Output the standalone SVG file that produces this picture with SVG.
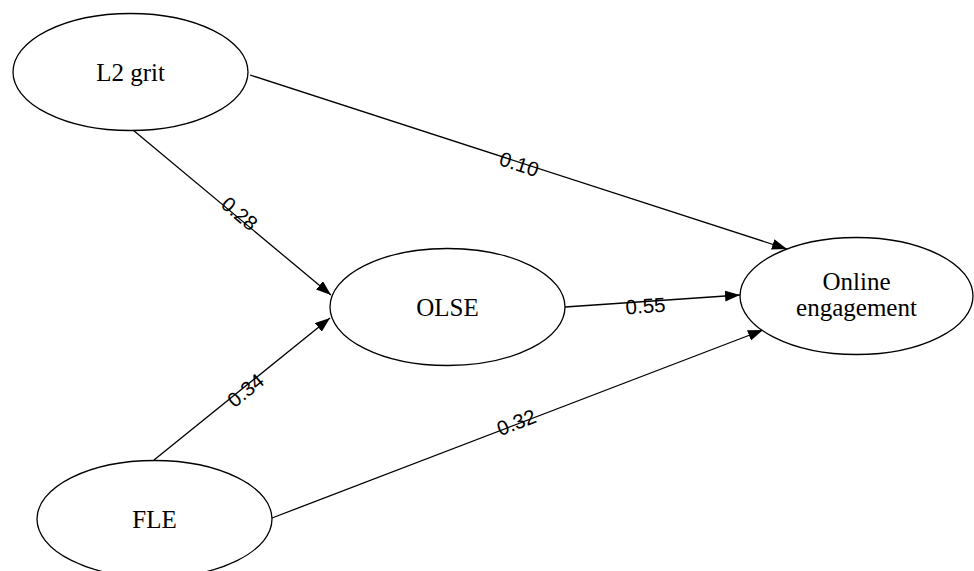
<svg xmlns="http://www.w3.org/2000/svg" width="974" height="571" viewBox="0 0 974 571">
<style>
.node ellipse{fill:#fff;stroke:#000;stroke-width:1.3}
.node text{font-family:"Liberation Serif","Times New Roman",serif;font-size:25px;fill:#000;text-anchor:middle}
.edge line{stroke:#000;stroke-width:1.3}
.lbl{font-family:"Liberation Sans",Arial,sans-serif;font-size:20.5px;fill:#000;text-anchor:middle}
</style>
<defs>
<marker id="arr" markerUnits="userSpaceOnUse" markerWidth="16" markerHeight="12" refX="15" refY="5.5" orient="auto">
<path d="M0,0 L15,5.5 L0,11 z" fill="#000"/>
</marker>
</defs>
<rect width="974" height="571" fill="#fff"/>
<g id="connectors" class="edge">
<line x1="133" y1="130" x2="331" y2="295" marker-end="url(#arr)"/>
<line x1="250" y1="75" x2="787" y2="249" marker-end="url(#arr)"/>
<line x1="565" y1="307" x2="740" y2="295" marker-end="url(#arr)"/>
<line x1="154" y1="460" x2="330" y2="318" marker-end="url(#arr)"/>
<line x1="272" y1="518" x2="763" y2="330" marker-end="url(#arr)"/>
<text class="lbl" transform="translate(235,219) rotate(40)">0.28</text>
<text class="lbl" transform="translate(517,171) rotate(18)">0.10</text>
<text class="lbl" transform="translate(646,313) rotate(-4)">0.55</text>
<text class="lbl" transform="translate(250,396) rotate(-39)">0.34</text>
<text class="lbl" transform="translate(519,429) rotate(-21)">0.32</text>
</g>
<g id="node-l2grit" class="node">
<ellipse cx="130.5" cy="72" rx="117.5" ry="58.5"/>
<text x="130.5" y="81">L2 grit</text>
</g>
<g id="node-olse" class="node">
<ellipse cx="447.5" cy="307" rx="117.5" ry="58.5"/>
<text x="447.5" y="316">OLSE</text>
</g>
<g id="node-online" class="node">
<ellipse cx="856.5" cy="296" rx="116.5" ry="58.5"/>
<text x="856.5" y="290">Online</text>
<text x="856.5" y="316">engagement</text>
</g>
<g id="node-fle" class="node">
<ellipse cx="154.5" cy="519" rx="117.5" ry="58.5"/>
<text x="154.5" y="528">FLE</text>
</g>
</svg>
